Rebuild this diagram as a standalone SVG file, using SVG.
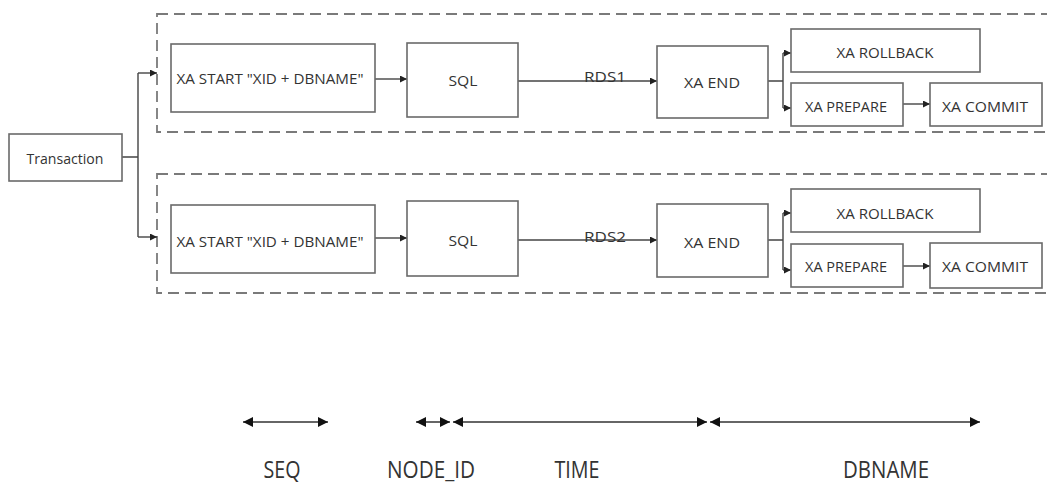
<svg xmlns="http://www.w3.org/2000/svg" width="1047" height="486" viewBox="0 0 1047 486">
<style>
.box{fill:#fff;stroke:#6a6a6a;stroke-width:1.6}
.grp{fill:none;stroke:#7a7a7a;stroke-width:1.8;stroke-dasharray:11 6}
.t{font-family:"Open Sans","Liberation Sans",sans-serif;font-size:14px;fill:#333;text-anchor:middle}
.big{font-family:"Open Sans","Liberation Sans",sans-serif;font-size:23px;fill:#333;text-anchor:middle}
.ln{fill:none;stroke:#444;stroke-width:1.4}
.dim{fill:none;stroke:#333;stroke-width:1.6}
</style>
<defs>
<marker id="ah" viewBox="0 0 10 10" refX="10" refY="5" markerWidth="7" markerHeight="7" markerUnits="userSpaceOnUse" orient="auto"><path d="M0,0L10,5L0,10z" fill="#222"/></marker>
<marker id="big" viewBox="0 0 10 10" refX="10" refY="5" markerWidth="11" markerHeight="10" markerUnits="userSpaceOnUse" orient="auto"><path d="M0,0L10,5L0,10z" fill="#111"/></marker>
<marker id="bigs" viewBox="0 0 10 10" refX="0" refY="5" markerWidth="11" markerHeight="10" markerUnits="userSpaceOnUse" orient="auto"><path d="M10,0L0,5L10,10z" fill="#111"/></marker>
</defs>
<rect class="grp" x="157" y="14" width="895" height="118"/>
<rect class="grp" x="157" y="174" width="895" height="119"/>
<g id="connectors">
<path class="ln" d="M122,157H138M138,73V237"/>
<path class="ln" marker-end="url(#ah)" d="M138,73H157"/>
<path class="ln" marker-end="url(#ah)" d="M138,237H157"/>
<path class="ln" marker-end="url(#ah)" d="M375,79H407"/>
<path class="ln" marker-end="url(#ah)" d="M518,81H657"/>
<path class="ln" d="M768,81H783M783,53V108"/>
<path class="ln" marker-end="url(#ah)" d="M783,53H791"/>
<path class="ln" marker-end="url(#ah)" d="M783,108H791"/>
<path class="ln" marker-end="url(#ah)" d="M903,104H930"/>
<path class="ln" marker-end="url(#ah)" d="M375,238H407"/>
<path class="ln" marker-end="url(#ah)" d="M518,240H657"/>
<path class="ln" d="M768,240H783M783,213V270"/>
<path class="ln" marker-end="url(#ah)" d="M783,213H791"/>
<path class="ln" marker-end="url(#ah)" d="M783,270H791"/>
<path class="ln" marker-end="url(#ah)" d="M903,266H930"/>
<path class="dim" marker-start="url(#bigs)" marker-end="url(#big)" d="M243,422H328"/>
<path class="dim" marker-start="url(#bigs)" marker-end="url(#big)" d="M416,422H450"/>
<path class="dim" marker-start="url(#bigs)" marker-end="url(#big)" d="M453,422H707"/>
<path class="dim" marker-start="url(#bigs)" marker-end="url(#big)" d="M710,422H980"/>
</g>
<g id="rds-labels">
<text class="t" x="605" y="82" font-size="15" textLength="42" lengthAdjust="spacingAndGlyphs">RDS1</text>
<text class="t" x="605" y="242" font-size="15" textLength="42" lengthAdjust="spacingAndGlyphs">RDS2</text>
</g>
<g id="transaction"><rect class="box" x="9" y="134" width="113" height="47"/><text class="t" x="65" y="164" textLength="77" lengthAdjust="spacingAndGlyphs">Transaction</text></g>
<g id="xastart1"><rect class="box" x="171" y="44" width="204" height="68"/><text class="t" x="270" y="84" textLength="187" lengthAdjust="spacingAndGlyphs">XA START "XID + DBNAME"</text></g>
<g id="sql1"><rect class="box" x="407" y="43" width="111" height="74"/><text class="t" x="463" y="86" textLength="29" lengthAdjust="spacingAndGlyphs">SQL</text></g>
<g id="xaend1"><rect class="box" x="657" y="46" width="111" height="72"/><text class="t" x="712" y="88" textLength="56" lengthAdjust="spacingAndGlyphs">XA END</text></g>
<g id="rollback1"><rect class="box" x="791" y="29" width="189" height="43"/><text class="t" x="885" y="58" textLength="97" lengthAdjust="spacingAndGlyphs">XA ROLLBACK</text></g>
<g id="prepare1"><rect class="box" x="791" y="83" width="112" height="43"/><text class="t" x="846" y="112" textLength="82" lengthAdjust="spacingAndGlyphs">XA PREPARE</text></g>
<g id="commit1"><rect class="box" x="930" y="83" width="112" height="43"/><text class="t" x="985" y="112" textLength="86" lengthAdjust="spacingAndGlyphs">XA COMMIT</text></g>
<g id="xastart2"><rect class="box" x="171" y="205" width="204" height="68"/><text class="t" x="270" y="247" textLength="187" lengthAdjust="spacingAndGlyphs">XA START "XID + DBNAME"</text></g>
<g id="sql2"><rect class="box" x="407" y="201" width="111" height="75"/><text class="t" x="463" y="246" textLength="29" lengthAdjust="spacingAndGlyphs">SQL</text></g>
<g id="xaend2"><rect class="box" x="657" y="204" width="111" height="73"/><text class="t" x="712" y="248" textLength="56" lengthAdjust="spacingAndGlyphs">XA END</text></g>
<g id="rollback2"><rect class="box" x="791" y="189" width="189" height="43"/><text class="t" x="885" y="219" textLength="97" lengthAdjust="spacingAndGlyphs">XA ROLLBACK</text></g>
<g id="prepare2"><rect class="box" x="791" y="244" width="112" height="43"/><text class="t" x="846" y="272" textLength="82" lengthAdjust="spacingAndGlyphs">XA PREPARE</text></g>
<g id="commit2"><rect class="box" x="930" y="243" width="112" height="45"/><text class="t" x="985" y="272" textLength="86" lengthAdjust="spacingAndGlyphs">XA COMMIT</text></g>
<g id="legend">
<text class="big" x="282" y="478" textLength="37" lengthAdjust="spacingAndGlyphs">SEQ</text>
<text class="big" x="431" y="478" textLength="88" lengthAdjust="spacingAndGlyphs">NODE_ID</text>
<text class="big" x="577" y="478" textLength="45" lengthAdjust="spacingAndGlyphs">TIME</text>
<text class="big" x="886" y="478" textLength="86" lengthAdjust="spacingAndGlyphs">DBNAME</text>
</g>
</svg>
